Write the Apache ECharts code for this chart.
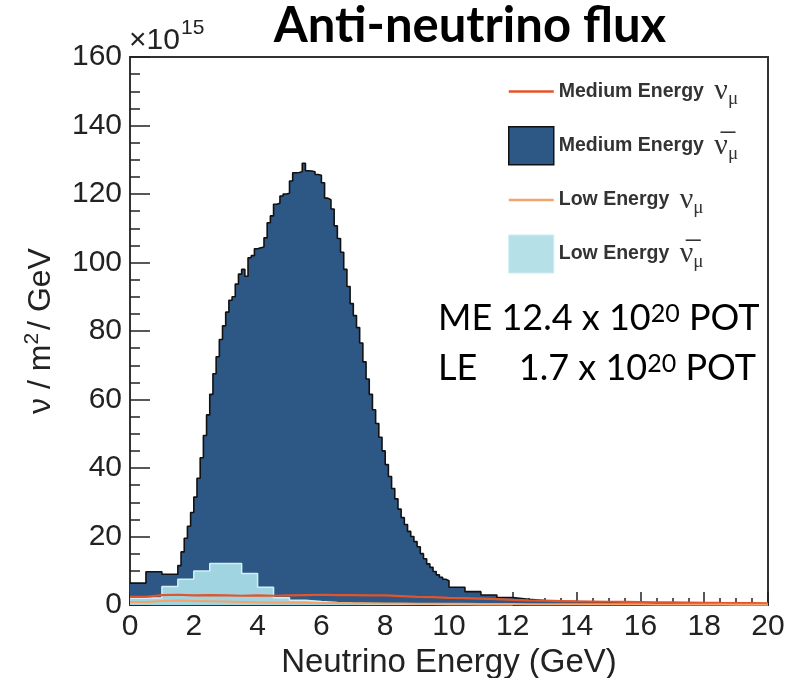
<!DOCTYPE html>
<html>
<head>
<meta charset="utf-8">
<title>Anti-neutrino flux</title>
<script src="https://cdn.jsdelivr.net/npm/echarts@6/dist/echarts.min.js"></script>
<style>
html, body { margin: 0; padding: 0; background: #fff; }
#main { width: 801px; height: 678px; }
</style>
</head>
<body>
<div id="main"></div>
<script>
// ME anti-nu_mu flux (x10^15 nu/m2/GeV), variable binning
var meBarLow = [6.4, 9.7, 9.0];   // 0 - 1.5 GeV, 0.5 GeV bins
var meBarFine = [                 // 1.5 - 10 GeV, 0.1 GeV bins
    11.5, 15.5, 19.5, 23, 27, 31.5, 37, 43, 49.5, 55.5,
    61.5, 67.5, 72.5, 77.5, 81.5, 85.5, 89, 90, 93.7, 96.6,
    98, 96, 101.4, 102, 104, 104.3, 104.5, 107.2, 111.6, 113.6,
    117, 117.3, 119.4, 120, 120.2, 123.8, 126.2, 126.3, 126.5, 129,
    126.8, 126.7, 126.5, 125.7, 125.5, 123.3, 118.8, 118.3, 115.6, 110.7,
    107, 103, 98, 93, 88, 84.5, 81, 76.5, 71, 66,
    61.5, 57, 53, 49, 45, 41, 37.5, 34, 31, 28,
    25.5, 23.5, 21.5, 20, 18.5, 17, 15, 13.5, 12, 11,
    9.8, 8.8, 8.1, 7.5, 7.1
];
var meBarTail = [5.2, 3.9, 2.9, 2.2, 1.7, 1.3, 1.1, 1.0, 0.9, 0.8,
    0.7, 0.65, 0.6, 0.55, 0.5, 0.5, 0.45, 0.4, 0.4, 0.35];   // 10 - 20 GeV, 0.5 GeV bins

// LE anti-nu_mu, 0.5 GeV bins from 0
var leBarFlux = [2.0, 2.1, 5.4, 7.5, 9.9, 12.1, 12.1, 9.2, 5.2, 2.1,
    1.4, 1.0, 0.7, 0.5, 0.4, 0.3, 0.25, 0.2, 0.2, 0.15, 0.15, 0.1, 0.1, 0.1];

// ME nu_mu and LE nu_mu, 0.5 GeV bins from 0 to 20
var meNuFlux = [2.4, 2.9, 3.0, 2.8, 2.9, 2.8, 2.7, 2.8, 2.7, 2.8,
    2.9, 3.0, 2.9, 2.9, 2.8, 2.8, 2.6, 2.4, 2.3, 2.1,
    2.0, 1.85, 1.7, 1.5, 1.35, 1.25, 1.15, 1.05, 1.0, 0.95,
    0.9, 0.85, 0.8, 0.75, 0.7, 0.65, 0.6, 0.58, 0.55, 0.5];
var leNuFlux = [0.9, 1.2, 1.3, 1.2, 1.1, 1.0, 0.9, 0.8, 0.75, 0.7,
    0.65, 0.6, 0.55, 0.5, 0.5, 0.45, 0.45, 0.4, 0.4, 0.35,
    0.35, 0.3, 0.3, 0.3, 0.25, 0.25, 0.25, 0.2, 0.2, 0.2,
    0.2, 0.2, 0.15, 0.15, 0.15, 0.15, 0.15, 0.1, 0.1, 0.1];

var legendTexts = {
    meNu: '{a|Medium Energy} {n|\u03bd}{s|\u03bc}',
    meBar: '{a|Medium Energy} {n|\u03bd\u0305}{s|\u03bc}',
    leNu: '{a|Low Energy} {n|\u03bd}{s|\u03bc}',
    leBar: '{a|Low Energy} {n|\u03bd\u0305}{s|\u03bc}'
};

// turn bin contents into step points (left edges + closing right edge)
function histPoints(segments) {
    var pts = [];
    segments.forEach(function (seg) {
        seg.values.forEach(function (v, i) {
            pts.push([Math.round((seg.start + i * seg.width) * 100) / 100, v]);
        });
    });
    var last = segments[segments.length - 1];
    var end = Math.round((last.start + last.values.length * last.width) * 100) / 100;
    pts.push([end, last.values[last.values.length - 1]]);
    return pts;
}

var meBarData = histPoints([
    {start: 0, width: 0.5, values: meBarLow},
    {start: 1.5, width: 0.1, values: meBarFine},
    {start: 10, width: 0.5, values: meBarTail}
]);
var leBarData = histPoints([{start: 0, width: 0.5, values: leBarFlux}]);
var meNuData = histPoints([{start: 0, width: 0.5, values: meNuFlux}]);
var leNuData = histPoints([{start: 0, width: 0.5, values: leNuFlux}]);

var C_ME_BAR = '#2d5784';
var C_LE_BAR = '#9fd4e0';
var C_ME_NU = '#e2552a';
var C_LE_NU = '#f3a46c';
var lineIcon = 'path://M0,0H45V2.5H0Z';

var chart = echarts.init(document.getElementById('main'), null, {renderer: 'canvas'});

var option = {
    animation: false,
    backgroundColor: '#fff',
    grid: {
        left: 130, right: 33, top: 57, bottom: 73,
        show: true, borderColor: '#333', borderWidth: 2,
        containLabel: false, outerBoundsMode: 'none'
    },
    xAxis: {
        type: 'value', min: 0, max: 20, interval: 2,
        name: 'Neutrino Energy (GeV)',
        nameLocation: 'middle', nameGap: 38,
        nameTextStyle: {fontFamily: 'Liberation Sans', fontSize: 33, color: '#222'},
        axisLine: {show: true, onZero: false, lineStyle: {color: '#333', width: 2}},
        axisTick: {show: true, inside: true, length: 13, lineStyle: {color: '#222', width: 1.5}},
        minorTick: {show: true, splitNumber: 4, length: 7, lineStyle: {color: '#222', width: 1.5}},
        splitLine: {show: false},
        axisLabel: {fontFamily: 'Liberation Sans', fontSize: 30, color: '#222', margin: 7}
    },
    yAxis: {
        type: 'value', min: 0, max: 160, interval: 20,
        name: '{a|\u03bd / m}{b|2}{a|/ GeV}',
        nameLocation: 'middle', nameGap: 72, nameRotate: 90,
        nameTextStyle: {
            fontFamily: 'Liberation Sans', fontSize: 32, color: '#222',
            rich: {
                a: {fontFamily: 'Liberation Sans', fontSize: 32, color: '#222'},
                b: {fontFamily: 'Liberation Sans', fontSize: 21, color: '#222', padding: [0, 3, 18, 0], lineHeight: 30}
            }
        },
        axisLine: {show: true, lineStyle: {color: '#333', width: 2}},
        axisTick: {show: true, inside: true, length: 20, lineStyle: {color: '#222', width: 1.5}},
        minorTick: {show: true, splitNumber: 4, length: 10, lineStyle: {color: '#222', width: 1.5}},
        splitLine: {show: false},
        axisLabel: {fontFamily: 'Liberation Sans', fontSize: 30, color: '#222', margin: 8}
    },
    legend: {
        orient: 'vertical', left: 503, top: 69,
        itemWidth: 45, itemHeight: 38, itemGap: 17,
        selectedMode: false,
        data: [
            {name: 'meNu', icon: lineIcon, itemStyle: {color: C_ME_NU, borderWidth: 0}},
            {name: 'meBar', icon: 'rect', itemStyle: {color: C_ME_BAR, borderColor: '#111', borderWidth: 1.5}},
            {name: 'leNu', icon: lineIcon, itemStyle: {color: C_LE_NU, borderWidth: 0}},
            {name: 'leBar', icon: 'rect', itemStyle: {color: '#b6e0e8', borderColor: '#cdebf1', borderWidth: 1}}
        ],
        formatter: function (name) { return legendTexts[name]; },
        textStyle: {
            fontFamily: 'Liberation Sans', fontSize: 19.5, fontWeight: 'bold', color: '#333',
            rich: {
                a: {fontFamily: 'Liberation Sans', fontSize: 19.5, fontWeight: 'bold', color: '#333'},
                n: {fontFamily: 'Liberation Serif', fontSize: 30, fontWeight: 'normal', color: '#333', padding: [0, 0, 0, 5], lineHeight: 30},
                s: {fontFamily: 'Liberation Serif', fontSize: 19, fontWeight: 'normal', color: '#333', padding: [16, 0, 0, 0], lineHeight: 24}
            }
        }
    },
    graphic: [
        {
            type: 'text', x: 470, y: 26,
            style: {
                text: 'Anti-neutrino flux', fill: '#000',
                font: 'bold 49px Lato', textAlign: 'center', textVerticalAlign: 'middle'
            }
        },
        {
            type: 'text', x: 129, y: 41,
            style: {text: '\u00d710', fill: '#222', font: '30px "Liberation Sans"', textVerticalAlign: 'middle'}
        },
        {
            type: 'text', x: 181, y: 28,
            style: {text: '15', fill: '#222', font: '21px "Liberation Sans"', textVerticalAlign: 'middle'}
        },
        {
            type: 'text', x: 438, y: 318,
            style: {
                text: '{m|ME 12.4 x 10}{p|20}{m| POT}',
                rich: {
                    m: {fontFamily: 'Lato', fontSize: 36, fill: '#000', lineHeight: 44},
                    p: {fontFamily: 'Lato', fontSize: 25, fill: '#000', padding: [0, 0, 9, 0], lineHeight: 30}
                },
                textVerticalAlign: 'middle'
            }
        },
        {
            type: 'text', x: 438, y: 368,
            style: {text: 'LE', fill: '#000', font: '36px Lato', textVerticalAlign: 'middle'}
        },
        {
            type: 'text', x: 756, y: 368,
            style: {
                text: '{m|1.7 x 10}{p|20}{m| POT}',
                rich: {
                    m: {fontFamily: 'Lato', fontSize: 36, fill: '#000', lineHeight: 44},
                    p: {fontFamily: 'Lato', fontSize: 25, fill: '#000', padding: [0, 0, 9, 0], lineHeight: 30}
                },
                textAlign: 'right', textVerticalAlign: 'middle'
            }
        }
    ],
    series: [
        {
            name: 'meBar', type: 'line', step: 'end', symbol: 'none', z: 1,
            data: meBarData,
            lineStyle: {color: '#111', width: 1.6},
            itemStyle: {color: C_ME_BAR},
            areaStyle: {color: C_ME_BAR, opacity: 1}
        },
        {
            name: 'leBar', type: 'line', step: 'end', symbol: 'none', z: 2,
            data: leBarData,
            lineStyle: {color: '#d3eff5', width: 1.5},
            itemStyle: {color: C_LE_BAR},
            areaStyle: {color: C_LE_BAR, opacity: 1}
        },
        {
            name: 'meNu', type: 'line', step: 'end', symbol: 'none', z: 3,
            data: meNuData,
            lineStyle: {color: C_ME_NU, width: 2.2},
            itemStyle: {color: C_ME_NU}
        },
        {
            name: 'leNu', type: 'line', step: 'end', symbol: 'none', z: 3,
            data: leNuData,
            lineStyle: {color: C_LE_NU, width: 2},
            itemStyle: {color: C_LE_NU}
        }
    ]
};

chart.setOption(option);
</script>
</body>
</html>
